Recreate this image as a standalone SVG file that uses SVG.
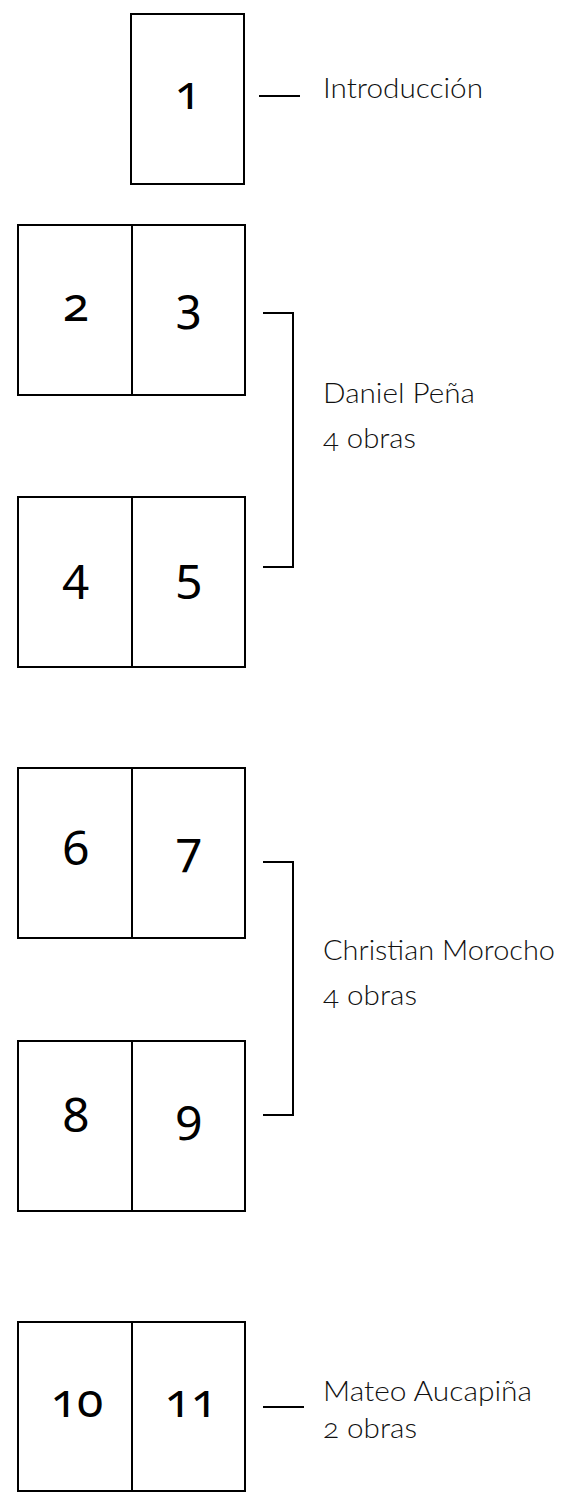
<svg xmlns="http://www.w3.org/2000/svg" width="571" height="1492" viewBox="0 0 571 1492">
<style>
.box{fill:#fff;stroke:#000;stroke-width:2}
.div{stroke:#000;stroke-width:2}
.num{font-family:"Noto Sans","Open Sans",sans-serif;font-size:48px;font-weight:400;fill:#000;text-anchor:middle;font-variant-numeric:oldstyle-nums;font-feature-settings:"onum" 1}
.lbl{font-family:"Lato","Open Sans",sans-serif;font-size:27px;font-weight:300;fill:#111;font-variant-numeric:oldstyle-nums;font-feature-settings:"onum" 1}
.con{fill:none;stroke:#000;stroke-width:2}
</style>
<rect width="571" height="1492" fill="#fff"/>
<g id="page1">
<rect class="box" x="131" y="14" width="113" height="170"/>
<text class="num" x="188" y="109">1</text>
</g>
<g id="spread2-3">
<rect class="box" x="18" y="225" width="227" height="170"/>
<line class="div" x1="132" y1="225" x2="132" y2="395"/>
<text class="num" x="76" y="321">2</text>
<text class="num" x="189" y="321">3</text>
</g>
<g id="spread4-5">
<rect class="box" x="18" y="497" width="227" height="170"/>
<line class="div" x1="132" y1="497" x2="132" y2="667"/>
<text class="num" x="76" y="591">4</text>
<text class="num" x="189" y="591">5</text>
</g>
<g id="spread6-7">
<rect class="box" x="18" y="768" width="227" height="170"/>
<line class="div" x1="132" y1="768" x2="132" y2="938"/>
<text class="num" x="76" y="865">6</text>
<text class="num" x="189" y="865">7</text>
</g>
<g id="spread8-9">
<rect class="box" x="18" y="1041" width="227" height="170"/>
<line class="div" x1="132" y1="1041" x2="132" y2="1211"/>
<text class="num" x="76" y="1132">8</text>
<text class="num" x="189" y="1132">9</text>
</g>
<g id="spread10-11">
<rect class="box" x="18" y="1322" width="227" height="169"/>
<line class="div" x1="132" y1="1322" x2="132" y2="1491"/>
<text class="num" x="77" y="1417">10</text>
<text class="num" x="191" y="1417">11</text>
</g>
<g id="connectors">
<line class="con" x1="259" y1="96" x2="300" y2="96"/>
<path class="con" d="M263 313 H293 V567 H263"/>
<path class="con" d="M263 862 H293 V1115 H263"/>
<line class="con" x1="263" y1="1407" x2="304" y2="1407"/>
</g>
<g id="label-intro">
<text class="lbl" x="323" y="98" textLength="160" lengthAdjust="spacingAndGlyphs">Introducción</text>
</g>
<g id="label-pena">
<text class="lbl" x="323" y="403" textLength="152" lengthAdjust="spacingAndGlyphs">Daniel Peña</text>
<text class="lbl" x="323" y="448" textLength="93" lengthAdjust="spacingAndGlyphs">4 obras</text>
</g>
<g id="label-morocho">
<text class="lbl" x="323" y="960" textLength="232" lengthAdjust="spacingAndGlyphs">Christian Morocho</text>
<text class="lbl" x="323" y="1005" textLength="94" lengthAdjust="spacingAndGlyphs">4 obras</text>
</g>
<g id="label-aucapina">
<text class="lbl" x="323" y="1401" textLength="209" lengthAdjust="spacingAndGlyphs">Mateo Aucapiña</text>
<text class="lbl" x="323" y="1438" textLength="94" lengthAdjust="spacingAndGlyphs">2 obras</text>
</g>
</svg>
